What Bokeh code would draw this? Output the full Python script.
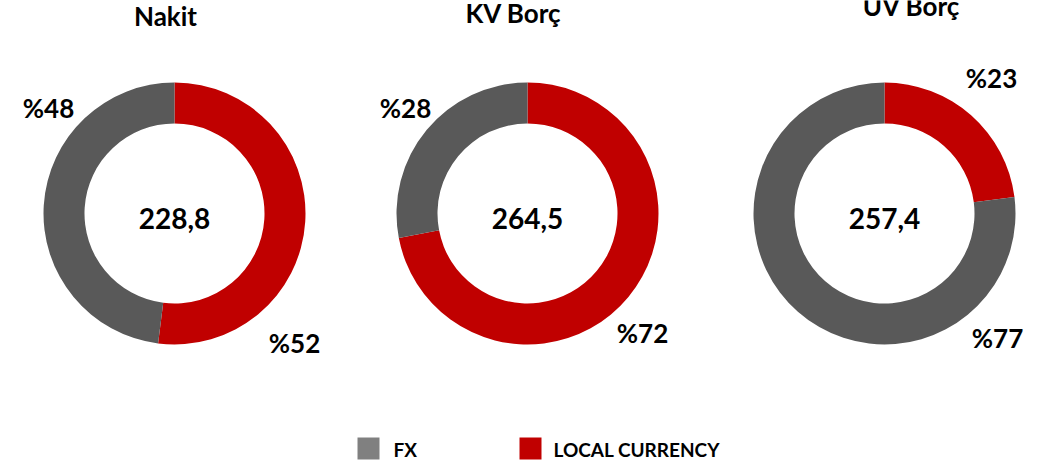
import math
from bokeh.plotting import figure
from bokeh.models import Range1d, ColumnDataSource
from bokeh.core.properties import value
from bokeh.embed import file_html
from bokeh.resources import INLINE

# ---- data ----
categories = ["Nakit", "KV Borç", "ÜV Borç"]
totals = [228.8, 264.5, 257.4]
local_pct = [52, 72, 23]
fx_pct = [48, 28, 77]
series_names = ["FX", "LOCAL CURRENCY"]

# ---- style / layout ----
FX_COLOR = "#595959"
LC_COLOR = "#C00000"
FX_LEGEND = "#808080"
FONT = value("Lato")
W, H = 1040, 465

centers_x = [174, 527, 884]
center_y = 213
r_outer, r_inner = 131, 90
title_pos = [(165, 25), (513, 22), (911, 15)]
fx_label_pos = [(48, 117), (405, 117), (997, 347)]
lc_label_pos = [(294, 352), (642, 342), (991, 87)]
center_base = 229
legend_base = 456


def Y(py, fs=0):
    # baseline position in page px -> data y, with font correction
    return H - (py - 0.38 * fs)


p = figure(width=W, height=H, output_backend="svg", toolbar_location=None,
           x_range=Range1d(0, W), y_range=Range1d(0, H),
           min_border=0)
p.axis.visible = False
p.grid.visible = False
p.outline_line_color = None
p.background_fill_color = "white"
p.border_fill_color = "white"

# donuts
xs, ys, starts, ends, colors = [], [], [], [], []
for i, cat in enumerate(categories):
    lc = local_pct[i] / (local_pct[i] + fx_pct[i])
    top = math.pi / 2
    # local currency: clockwise from 12 o'clock
    xs.append(centers_x[i]); ys.append(Y(center_y))
    starts.append(top - 2 * math.pi * lc); ends.append(top); colors.append(LC_COLOR)
    # fx: the rest
    xs.append(centers_x[i]); ys.append(Y(center_y))
    starts.append(top); ends.append(top - 2 * math.pi * lc + 2 * math.pi); colors.append(FX_COLOR)

src = ColumnDataSource(dict(x=xs, y=ys, s=starts, e=ends, c=colors))
p.annular_wedge(x="x", y="y", inner_radius=r_inner, outer_radius=r_outer,
                inner_radius_units="screen", outer_radius_units="screen",
                start_angle="s", end_angle="e", fill_color="c", line_color=None,
                direction="anticlock", source=src)

# center totals
p.text(x=centers_x, y=[Y(center_base, 28)] * 3,
       text=[f"{v:.1f}".replace(".", ",") for v in totals],
       text_font=FONT, text_font_style="bold", text_font_size="28px",
       text_align="center", text_baseline="alphabetic", text_color="black")

# titles
p.text(x=[t[0] for t in title_pos], y=[Y(t[1], 26) for t in title_pos], text=categories,
       text_font=FONT, text_font_style="bold", text_font_size="26px",
       text_align="center", text_baseline="alphabetic", text_color="black")

# percentage labels
p.text(x=[q[0] for q in fx_label_pos], y=[Y(q[1], 26) for q in fx_label_pos],
       text=[f"%{v}" for v in fx_pct],
       text_font=FONT, text_font_style="bold", text_font_size="26px",
       text_align="center", text_baseline="alphabetic", text_color="black")
p.text(x=[q[0] for q in lc_label_pos], y=[Y(q[1], 26) for q in lc_label_pos],
       text=[f"%{v}" for v in local_pct],
       text_font=FONT, text_font_style="bold", text_font_size="26px",
       text_align="center", text_baseline="alphabetic", text_color="black")

# legend
leg_sq_x = [368, 530]
leg_txt_x = [393, 553]
p.rect(x=leg_sq_x, y=[Y(448)] * 2, width=22, height=22,
       width_units="screen", height_units="screen",
       fill_color=[FX_LEGEND, LC_COLOR], line_color=None)
p.text(x=leg_txt_x, y=[Y(legend_base, 19)] * 2, text=series_names,
       text_font=FONT, text_font_style="bold", text_font_size="19px",
       text_align="left", text_baseline="alphabetic", text_color="black")

open("out.html", "w").write(file_html(p, INLINE))
